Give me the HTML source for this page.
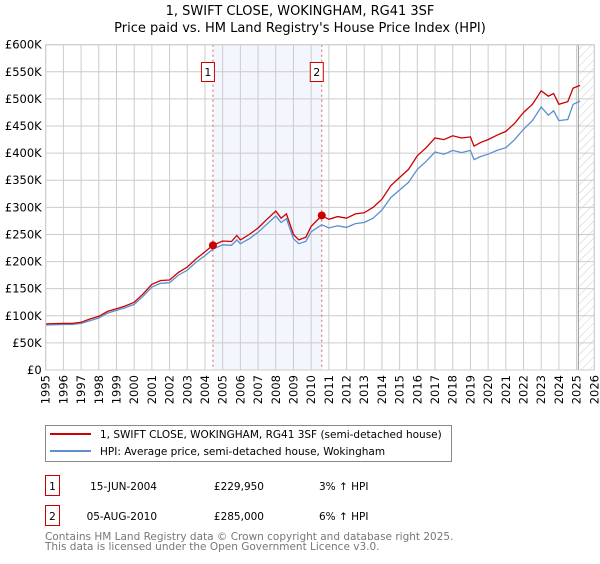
<!DOCTYPE html>
<html><head><meta charset="utf-8"><style>
body{margin:0;background:#fff;font-family:"DejaVu Sans","Liberation Sans",sans-serif;}
svg text{font-family:"DejaVu Sans","Liberation Sans",sans-serif;}
</style></head><body>
<svg id="chart" width="600" height="560" xmlns="http://www.w3.org/2000/svg">
<defs><pattern id="hatch" width="6" height="6" patternUnits="userSpaceOnUse" patternTransform="rotate(45)"><line x1="0" y1="0" x2="0" y2="6" stroke="#ccc" stroke-width="1"/></pattern></defs>
<text x="300" y="15" text-anchor="middle" font-size="13">1, SWIFT CLOSE, WOKINGHAM, RG41 3SF</text>
<text x="300" y="32" text-anchor="middle" font-size="13">Price paid vs. HM Land Registry's House Price Index (HPI)</text>
<g id="plot"></g>
<g>
<rect x="45.5" y="425.5" width="406" height="36" fill="#fff" stroke="#888"/>
<line x1="50" y1="434" x2="91" y2="434" stroke="#cc0000" stroke-width="2"/>
<text x="100" y="438" font-size="10.5">1, SWIFT CLOSE, WOKINGHAM, RG41 3SF (semi-detached house)</text>
<line x1="50" y1="451" x2="91" y2="451" stroke="#5b8fd0" stroke-width="2"/>
<text x="100" y="455" font-size="10.5">HPI: Average price, semi-detached house, Wokingham</text>
</g>
<g font-size="10.5">
<rect x="45.5" y="475.5" width="14" height="20" fill="#fff" stroke="#cc0000"/><text x="52.5" y="490" text-anchor="middle">1</text>
<text x="157" y="490" text-anchor="end">15-JUN-2004</text><text x="264" y="490" text-anchor="end">£229,950</text><text x="319" y="490">3% ↑ HPI</text>
<rect x="45.5" y="505.5" width="14" height="20" fill="#fff" stroke="#cc0000"/><text x="52.5" y="520" text-anchor="middle">2</text>
<text x="157" y="520" text-anchor="end">05-AUG-2010</text><text x="264" y="520" text-anchor="end">£285,000</text><text x="319" y="520">6% ↑ HPI</text>
</g>
<text x="45" y="540" font-size="10.5" fill="#777">Contains HM Land Registry data © Crown copyright and database right 2025.</text>
<text x="45" y="550" font-size="10.5" fill="#777">This data is licensed under the Open Government Licence v3.0.</text>
</svg>
<script>
const yTicks=[0,50,100,150,200,250,300,350,400,450,500,550,600];
const yTickLabels=["£0","£50K","£100K","£150K","£200K","£250K","£300K","£350K","£400K","£450K","£500K","£550K","£600K"];
const years=[1995,1996,1997,1998,1999,2000,2001,2002,2003,2004,2005,2006,2007,2008,2009,2010,2011,2012,2013,2014,2015,2016,2017,2018,2019,2020,2021,2022,2023,2024,2025,2026];
const tTimes=[1995,1996,1996.5,1997,1997.5,1998,1998.5,1999,1999.5,2000,2000.5,2001,2001.5,2002,2002.5,2003,2003.5,2004,2004.45,2005,2005.5,2005.8,2006,2006.5,2007,2007.5,2008,2008.3,2008.6,2009,2009.3,2009.7,2010,2010.6,2011,2011.5,2012,2012.5,2013,2013.5,2014,2014.5,2015,2015.5,2016,2016.5,2017,2017.5,2018,2018.5,2019,2019.2,2019.6,2020,2020.5,2021,2021.5,2022,2022.5,2023,2023.4,2023.7,2024,2024.5,2024.8,2025.2];
const priceSeries=[85,86,86,88,94,99,108,113,118,125,140,158,165,166,180,190,205,218,230,238,237,248,240,250,262,278,293,280,288,250,240,245,265,285,278,283,280,288,290,300,315,340,355,370,395,410,428,425,432,428,430,413,420,425,433,440,455,475,490,515,505,510,490,495,520,525];
const hpiSeries=[83,84,84,86,91,96,105,110,115,121,136,153,160,161,175,184,199,211,223,231,230,240,233,242,254,269,284,272,279,242,233,237,255,268,262,266,263,270,272,280,295,318,332,346,370,385,402,398,405,401,405,388,394,398,405,410,425,444,460,485,470,478,460,462,490,496];
const sales=[{t:2004.45,v:229.95,label:"1"},{t:2010.6,v:285,label:"2"}];
const hpiEnd=2025.1;
const NS="http://www.w3.org/2000/svg";
const L=45.7,R=594.3,T=44.7,B=370;
const x=t=>L+(t-1995)/(2026-1995)*(R-L);
const y=v=>B-v/600*(B-T);
const g=document.getElementById('plot');
function mk(tag,attrs){const e=document.createElementNS(NS,tag);for(const k in attrs)e.setAttribute(k,attrs[k]);g.appendChild(e);return e;}
let e;
e=mk('rect',{x:x(sales[0].t),y:T,width:x(sales[1].t)-x(sales[0].t),height:B-T,fill:'#f3f6fd'});


e=mk('rect',{x:x(hpiEnd),y:T,width:R-x(hpiEnd),height:B-T,fill:'url(#hatch)'});


yTicks.forEach((v,i)=>{
 e=mk('line',{x1:L,x2:R,y1:y(v),y2:y(v),stroke:'#ccc','stroke-width':1});
 
 
 e=mk('text',{x:L-4,y:y(v)+4,'text-anchor':'end','font-size':11.5});
 e.textContent=yTickLabels[i];
 
 
});
years.forEach(yr=>{
 e=mk('line',{x1:x(yr),x2:x(yr),y1:T,y2:B,stroke:'#ccc','stroke-width':1});
 
 
 e=mk('text',{x:0,y:0,'text-anchor':'end','font-size':11.5,transform:`translate(${x(yr)+4},${B+5}) rotate(-90)`});
 e.textContent=yr;
 
 
});
e=mk('line',{x1:x(hpiEnd),x2:x(hpiEnd),y1:T,y2:B,stroke:'#999','stroke-width':1});


sales.forEach(s=>{
 e=mk('line',{x1:x(s.t),x2:x(s.t),y1:T,y2:B,stroke:'#e06060','stroke-width':1,'stroke-dasharray':'2,3'});
 
 
});
function path(vals){return vals.map((v,i)=>(i?'L':'M')+x(tTimes[i]).toFixed(1)+','+y(v).toFixed(1)).join('');}
e=mk('path',{d:path(hpiSeries),fill:'none',stroke:'#5b8fd0','stroke-width':1.3});


e=mk('path',{d:path(priceSeries),fill:'none',stroke:'#cc0000','stroke-width':1.3});


sales.forEach(s=>{
 e=mk('circle',{cx:x(s.t),cy:y(s.v),r:4,fill:'#cc0000'});
 
 
 e=mk('rect',{x:x(s.t)-11.5,y:62.5,width:13,height:19,fill:'#fff',stroke:'#cc0000'});
 
 
 e=mk('text',{x:x(s.t)-5,y:76,'text-anchor':'middle','font-size':11});
 e.textContent=s.label;
 
 
});
e=mk('rect',{x:L,y:T,width:R-L,height:B-T,fill:'none',stroke:'#ccc'});


</script>
</body></html>
